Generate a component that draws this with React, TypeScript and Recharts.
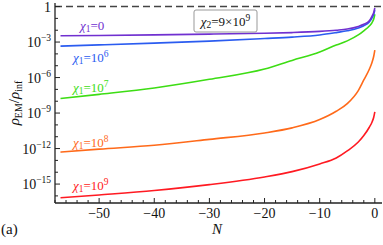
import React from 'react';
import { Line, LineChart, ReferenceLine, XAxis, YAxis } from 'recharts';

// e-folds N and log10(rho_EM / rho_inf) for each chi_1
const nValues = [-57, -50, -40, -30, -20, -15, -10, -7, -5, -3, -2, -1, -0.5, -0.2, 0];
const chi1Zero = [-2.47, -2.44, -2.39, -2.33, -2.26, -2.2, -2.1, -2.0, -1.9, -1.68, -1.5, -1.2, -0.8, -0.5, -0.12];
const chi1E6 = [-3.34, -3.24, -3.09, -2.92, -2.7, -2.58, -2.4, -2.2, -2.05, -1.82, -1.62, -1.3, -0.95, -0.65, -0.3];
const chi1E7 = [-7.77, -7.42, -6.88, -6.15, -5.28, -4.55, -3.85, -3.25, -2.9, -2.4, -2.05, -1.65, -1.35, -1.05, -0.65];
const chi1E8 = [-12.3, -12.05, -11.72, -11.22, -10.68, -10.25, -9.55, -8.85, -8.2, -7.1, -6.2, -5.3, -4.7, -4.2, -3.68];
const chi1E9 = [-16.16, -15.92, -15.55, -15.05, -14.4, -13.95, -13.3, -12.8, -12.2, -11.45, -10.9, -10.2, -9.75, -9.35, -8.9];

const xTicks = [-58, -56, -54, -52, -50, -48, -46, -44, -42, -40, -38, -36, -34, -32, -30, -28, -26, -24, -22, -20, -18, -16, -14, -12, -10, -8, -6, -4, -2, 0];
const yTicks = [-16, -15, -14, -13, -12, -11, -10, -9, -8, -7, -6, -5, -4, -3, -2, -1, 0];

const data = nValues.map((n, i) => ({
  n,
  c0: chi1Zero[i],
  c6: chi1E6[i],
  c7: chi1E7[i],
  c8: chi1E8[i],
  c9: chi1E9[i],
}));

const FONT = 'Liberation Serif, Times New Roman, serif';
const FRAME = '#222';

const BottomTick = (props: any) => {
  const { x, y, payload } = props;
  const v = payload.value;
  const major = v % 10 === 0;
  return (
    <g>
      <line x1={x} x2={x} y1={y} y2={y - (major ? 5 : 3)} stroke={FRAME} strokeWidth={1} />
      {major && (
        <text x={x} y={y + 15} textAnchor="middle" fontFamily={FONT} fontSize={14} fill="#111">
          {v === 0 ? '0' : '\u2212' + Math.abs(v)}
        </text>
      )}
    </g>
  );
};

const TopTick = (props: any) => {
  const { x, y, payload } = props;
  const major = payload.value % 10 === 0;
  return <line x1={x} x2={x} y1={y} y2={y + (major ? 5 : 3)} stroke={FRAME} strokeWidth={1} />;
};

const LeftTick = (props: any) => {
  const { x, y, payload } = props;
  const v = payload.value;
  const major = v % 3 === 0;
  return (
    <g>
      <line x1={x} x2={x + (major ? 5 : 3)} y1={y} y2={y} stroke={FRAME} strokeWidth={1} />
      {major && (
        <text x={x - 4} y={y + 5} textAnchor="end" fontFamily={FONT} fontSize={14} fill="#111">
          {v === 0 ? (
            '1'
          ) : (
            <>
              10
              <tspan dy={-6} fontSize={9.5}>
                {'\u2212' + Math.abs(v)}
              </tspan>
            </>
          )}
        </text>
      )}
    </g>
  );
};

const RightTick = (props: any) => {
  const { x, y, payload } = props;
  const major = payload.value % 3 === 0;
  return <line x1={x} x2={x - (major ? 5 : 3)} y1={y} y2={y} stroke={FRAME} strokeWidth={1} />;
};

const ChiLabel = ({ x, y, color, sub, value, exp }: any) => (
  <text x={x} y={y} fontFamily={FONT} fontSize={13} fill={color}>
    <tspan fontStyle="italic">χ</tspan>
    <tspan fontSize={9.5} dy={2}>{sub}</tspan>
    <tspan dy={-2}>{'=' + value}</tspan>
    {exp && (
      <tspan dy={-5} fontSize={9.5}>
        {exp}
      </tspan>
    )}
  </text>
);

export default function App() {
  return (
    <div style={{ position: 'absolute', left: 0, top: 0, width: 383, height: 245, background: '#fff' }}>
      <LineChart width={383} height={245} data={data} margin={{ top: 3, right: 1, bottom: 0, left: 0 }}>
        <XAxis
          xAxisId="b"
          dataKey="n"
          type="number"
          domain={[-58, 1.3]}
          allowDataOverflow
          ticks={xTicks}
          interval={0}
          height={42}
          tickSize={0}
          tickMargin={0}
          tickLine={false}
          tick={<BottomTick />}
          axisLine={{ stroke: FRAME, strokeWidth: 1.3 }}
        />
        <XAxis
          xAxisId="t"
          orientation="top"
          dataKey="n"
          type="number"
          domain={[-58, 1.3]}
          allowDataOverflow
          ticks={xTicks}
          interval={0}
          height={0}
          tickSize={0}
          tickMargin={0}
          tickLine={false}
          tick={<TopTick />}
          axisLine={{ stroke: FRAME, strokeWidth: 1.3 }}
        />
        <YAxis
          yAxisId="l"
          type="number"
          domain={[-16.6, 0.3]}
          allowDataOverflow
          ticks={yTicks}
          interval={0}
          width={55}
          tickSize={0}
          tickMargin={0}
          tickLine={false}
          tick={<LeftTick />}
          axisLine={{ stroke: FRAME, strokeWidth: 1.3 }}
        />
        <YAxis
          yAxisId="r"
          orientation="right"
          type="number"
          domain={[-16.6, 0.3]}
          allowDataOverflow
          ticks={yTicks}
          interval={0}
          width={0}
          tickSize={0}
          tickMargin={0}
          tickLine={false}
          tick={<RightTick />}
          axisLine={{ stroke: FRAME, strokeWidth: 1.3 }}
        />
        <ReferenceLine xAxisId="b" yAxisId="l" y={0} stroke="#444" strokeWidth={1.5} strokeDasharray="7 4" />
        <Line xAxisId="b" yAxisId="l" type="monotone" dataKey="c9" stroke="#ff1a22" strokeWidth={1.6} dot={false} isAnimationActive={false} />
        <Line xAxisId="b" yAxisId="l" type="monotone" dataKey="c8" stroke="#ff6a1a" strokeWidth={1.6} dot={false} isAnimationActive={false} />
        <Line xAxisId="b" yAxisId="l" type="monotone" dataKey="c7" stroke="#3ddd14" strokeWidth={1.6} dot={false} isAnimationActive={false} />
        <Line xAxisId="b" yAxisId="l" type="monotone" dataKey="c6" stroke="#2b5cf0" strokeWidth={1.6} dot={false} isAnimationActive={false} />
        <Line xAxisId="b" yAxisId="l" type="monotone" dataKey="c0" stroke="#7030d0" strokeWidth={1.6} dot={false} isAnimationActive={false} />
      </LineChart>
      <svg width={383} height={245} style={{ position: 'absolute', left: 0, top: 0, pointerEvents: 'none' }}>
        <rect x={194} y={10} width={63} height={22} rx={2} fill="#fff" stroke="#999" strokeWidth={1} />
        <text x={225.5} y={26} textAnchor="middle" fontFamily={FONT} fontSize={13} fill="#111">
          <tspan fontStyle="italic">χ</tspan>
          <tspan fontSize={9.5} dy={2}>2</tspan>
          <tspan dy={-2}>=9×10</tspan>
          <tspan dy={-5} fontSize={9.5}>9</tspan>
        </text>
        <ChiLabel x={80} y={30} color="#7030d0" sub="1" value="0" />
        <ChiLabel x={73} y={62} color="#2b5cf0" sub="1" value="10" exp="6" />
        <ChiLabel x={73} y={92} color="#3ddd14" sub="1" value="10" exp="7" />
        <ChiLabel x={73} y={147} color="#ff6a1a" sub="1" value="10" exp="8" />
        <ChiLabel x={73} y={190} color="#ff1a22" sub="1" value="10" exp="9" />
        <text x={217} y={234} textAnchor="middle" fontFamily={FONT} fontSize={15} fontStyle="italic" fill="#111">
          N
        </text>
        <text
          transform="translate(19,103) rotate(-90)"
          textAnchor="middle"
          fontFamily={FONT}
          fontSize={15}
          fill="#111"
        >
          <tspan fontStyle="italic">ρ</tspan>
          <tspan fontSize={10} dy={3}>EM</tspan>
          <tspan dy={-3}>/</tspan>
          <tspan fontStyle="italic">ρ</tspan>
          <tspan fontSize={10} dy={3}>inf</tspan>
        </text>
        <text x={1} y={234} fontFamily={FONT} fontSize={15} fill="#111">
          (a)
        </text>
      </svg>
    </div>
  );
}
